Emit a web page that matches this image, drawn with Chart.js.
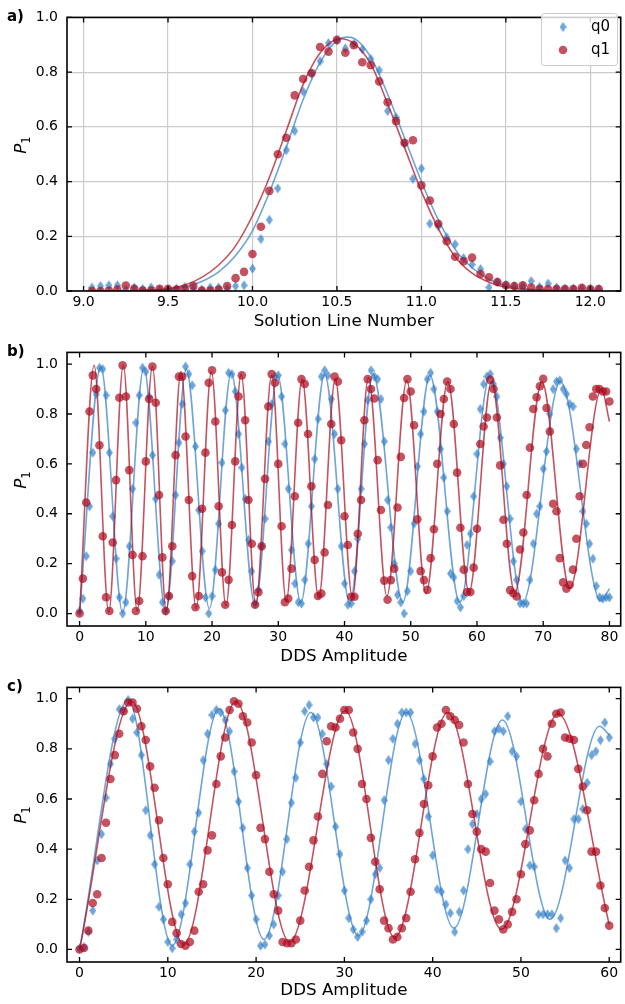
<!DOCTYPE html>
<html>
<head>
<meta charset="utf-8">
<script src="https://cdn.jsdelivr.net/npm/chart.js@4.4.0/dist/chart.umd.min.js"></script>
<style>
  body { margin: 0; background: #fff; width: 625px; height: 1004px; position: relative; overflow: hidden; font-family: 'DejaVu Sans', sans-serif; color: #000; }
  canvas { position: absolute; left: 0; }
  .tag { position: absolute; left: 7px; font-weight: bold; font-size: 15px; line-height: 18px; }
  .ylab { position: absolute; left: 23px; font-size: 16.7px; line-height: 20px; white-space: nowrap; transform: translate(-50%, -50%) rotate(-90deg); }
  .ylab i { font-style: italic; }
  .ylab sub { font-size: 11.7px; vertical-align: -4px; }
</style>
</head>
<body>
<canvas id="chartA" width="625" height="335" style="top:0px"></canvas>
<canvas id="chartB" width="625" height="335" style="top:335px"></canvas>
<canvas id="chartC" width="625" height="334" style="top:670px"></canvas>
<div class="tag" style="top:7px">a)</div>
<div class="tag" style="top:342px">b)</div>
<div class="tag" style="top:677px">c)</div>
<div class="ylab" style="top:145px"><i>P</i><sub>1</sub></div>
<div class="ylab" style="top:480px"><i>P</i><sub>1</sub></div>
<div class="ylab" style="top:815px"><i>P</i><sub>1</sub></div>

<script>
// series names
const seriesNames = ["q0", "q1"];

// panel a: solution line scan, x = 9.05 + i*0.05
const aStart = 9.05, aStep = 0.05;
const aQ0 = [
  0.013, 0.018, 0.021, 0.021, 0.005, 0.013, 0.008, 0.013, 0.005, 0.005,
  0.008, 0.015, 0.008, 0.005, 0.013, 0.013, 0.008, 0.018, 0.021, 0.082,
  0.19, 0.26, 0.375, 0.515, 0.585, 0.729, 0.793, 0.84, 0.906, 0.916,
  0.887, 0.904, 0.883, 0.848, 0.807, 0.658, 0.635, 0.538, 0.41, 0.448,
  0.246, 0.237, 0.196, 0.171, 0.12, 0.097, 0.08, 0.013, 0.033, 0.023,
  0.018, 0.018, 0.036, 0.015, 0.027, 0.013, 0.009, 0.009, 0.009, 0.009,
  0.007
];
const aQ1 = [
  0.0, 0.0, 0.002, 0.005, 0.02, 0.008, 0.002, 0.002, 0.008, 0.008,
  0.005, 0.008, 0.018, 0.002, 0.002, 0.005, 0.018, 0.047, 0.07, 0.135,
  0.235, 0.366, 0.5, 0.56, 0.715, 0.775, 0.797, 0.892, 0.875, 0.918,
  0.871, 0.898, 0.836, 0.825, 0.766, 0.69, 0.621, 0.542, 0.551, 0.386,
  0.331, 0.246, 0.182, 0.125, 0.109, 0.122, 0.062, 0.05, 0.033, 0.021,
  0.018, 0.021, 0.013, 0.007, 0.007, 0.007, 0.007, 0.007, 0.012, 0.007,
  0.007
];
// fitted curves [x, y]
const aFit0 = [[9.05,0],[9.3,0.001],[9.5,0.006],[9.6,0.015],[9.7,0.035],[9.8,0.07],[9.9,0.13],[10.0,0.22],
  [10.1,0.36],[10.2,0.525],[10.3,0.7],[10.4,0.835],[10.5,0.915],[10.56,0.928],[10.6,0.924],[10.7,0.855],
  [10.8,0.72],[10.9,0.56],[11.0,0.4],[11.1,0.26],[11.2,0.152],[11.3,0.085],[11.4,0.043],[11.5,0.02],
  [11.6,0.009],[11.7,0.004],[11.9,0.0],[12.05,0]];
const aFit1 = [[9.05,0],[9.3,0.001],[9.5,0.008],[9.6,0.022],[9.7,0.05],[9.8,0.095],[9.9,0.165],[10.0,0.275],
  [10.1,0.415],[10.2,0.585],[10.3,0.755],[10.4,0.87],[10.52,0.922],[10.6,0.905],[10.7,0.83],[10.8,0.685],
  [10.9,0.525],[11.0,0.365],[11.1,0.228],[11.2,0.125],[11.3,0.065],[11.4,0.032],[11.5,0.014],[11.6,0.006],
  [11.7,0.002],[11.9,0.0],[12.05,0]];
const aXTicks = [9.0, 9.5, 10.0, 10.5, 11.0, 11.5, 12.0];

// panel b: DDS amplitude 0..80, step 0.5
const bStart = 0, bStep = 0.5;
const bQ0 = [
  0.01, 0.06, 0.23, 0.43, 0.645, 0.88, 0.985, 0.98, 0.875, 0.645,
  0.39, 0.22, 0.065, 0.0, 0.045, 0.27, 0.5, 0.765, 0.875, 0.985,
  0.97, 0.87, 0.635, 0.46, 0.155, 0.045, 0.01, 0.07, 0.21, 0.475,
  0.685, 0.84, 0.99, 0.96, 0.915, 0.67, 0.415, 0.25, 0.065, 0.0,
  0.07, 0.175, 0.36, 0.605, 0.815, 0.965, 0.96, 0.89, 0.72, 0.585,
  0.46, 0.295, 0.17, 0.04, 0.095, 0.27, 0.38, 0.69, 0.84, 0.95,
  0.955, 0.87, 0.68, 0.5, 0.255, 0.12, 0.045, 0.04, 0.135, 0.28,
  0.43, 0.62, 0.78, 0.95, 0.975, 0.955, 0.86, 0.72, 0.5, 0.27,
  0.12, 0.035, 0.04, 0.17, 0.3, 0.5, 0.68, 0.855, 0.975, 0.95,
  0.94, 0.86, 0.69, 0.455, 0.345, 0.2, 0.075, 0.045, 0.0, 0.09,
  0.17, 0.36, 0.59, 0.72, 0.81, 0.94, 0.965, 0.9, 0.81, 0.66,
  0.545, 0.41, 0.16, 0.145, 0.05, 0.025, 0.07, 0.275, 0.32, 0.47,
  0.64, 0.82, 0.92, 0.95, 0.96, 0.92, 0.87, 0.705, 0.6, 0.51,
  0.38, 0.21, 0.135, 0.04, 0.04, 0.04, 0.135, 0.28, 0.4, 0.43,
  0.58, 0.65, 0.8, 0.9, 0.93, 0.935, 0.9, 0.88, 0.84, 0.83,
  0.66, 0.6, 0.41, 0.36, 0.28, 0.22, 0.11, 0.065, 0.06, 0.065,
  0.065
];
const bQ1 = [
  0.0, 0.14, 0.445, 0.81, 0.955, 0.9, 0.675, 0.31, 0.065, 0.01,
  0.285, 0.535, 0.865, 0.995, 0.87, 0.575, 0.235, 0.01, 0.05, 0.23,
  0.61, 0.86, 0.99, 0.845, 0.475, 0.225, 0.01, 0.07, 0.27, 0.635,
  0.95, 0.95, 0.71, 0.455, 0.15, 0.025, 0.07, 0.42, 0.645, 0.925,
  0.975, 0.77, 0.43, 0.165, 0.035, 0.135, 0.355, 0.61, 0.87, 0.955,
  0.775, 0.455, 0.28, 0.035, 0.085, 0.27, 0.54, 0.83, 0.96, 0.925,
  0.6, 0.35, 0.045, 0.06, 0.18, 0.47, 0.765, 0.94, 0.92, 0.72,
  0.51, 0.215, 0.07, 0.08, 0.245, 0.435, 0.76, 0.95, 0.93, 0.695,
  0.39, 0.275, 0.067, 0.067, 0.32, 0.455, 0.775, 0.94, 0.9, 0.862,
  0.615, 0.415, 0.132, 0.055, 0.134, 0.18, 0.425, 0.628, 0.864, 0.94,
  0.89, 0.755, 0.378, 0.17, 0.134, 0.095, 0.222, 0.338, 0.6, 0.8,
  0.86, 0.93, 0.9, 0.76, 0.565, 0.344, 0.176, 0.086, 0.086, 0.184,
  0.34, 0.68, 0.75, 0.786, 0.937, 0.9, 0.786, 0.594, 0.376, 0.28,
  0.094, 0.081, 0.068, 0.257, 0.325, 0.475, 0.665, 0.82, 0.867, 0.911,
  0.941, 0.824, 0.73, 0.44, 0.41, 0.222, 0.125, 0.1, 0.115, 0.176,
  0.3, 0.47, 0.6, 0.676, 0.747, 0.87, 0.9, 0.9, 0.89, 0.89,
  0.85
];
// fit curves: turning points
const bFit0 = [[0,0],[3.2,0.99],[6.5,0.005],[9.7,0.985],[13.0,0.01],[16.1,0.98],[19.6,0.02],[22.9,0.965],
  [26.5,0.035],[29.9,0.955],[33.4,0.045],[37.0,0.96],[40.8,0.04],[44.3,0.96],[48.8,0.045],[52.9,0.955],
  [57.4,0.045],[62.0,0.955],[66.9,0.045],[72.6,0.93],[78.7,0.05],[80,0.1]];
const bFit1 = [[0,0],[2.2,0.995],[4.4,0.005],[6.6,0.995],[8.7,0.01],[11.0,0.99],[13.1,0.01],[15.3,0.97],
  [17.6,0.02],[19.9,0.97],[22.1,0.03],[24.4,0.96],[26.6,0.035],[29.0,0.955],[31.2,0.05],[33.6,0.94],
  [36.1,0.06],[38.6,0.94],[41.2,0.065],[43.6,0.945],[46.4,0.07],[49.4,0.935],[52.3,0.08],[55.6,0.93],
  [58.8,0.085],[62.2,0.93],[65.7,0.085],[69.8,0.93],[74.0,0.1],[78.8,0.9],[80,0.77]];
const bXTicks = [0, 10, 20, 30, 40, 50, 60, 70, 80];

// panel c: DDS amplitude 0..60, step 0.5
const cStart = 0, cStep = 0.5;
const cQ0 = [
  0.005, 0.01, 0.07, 0.155, 0.355, 0.46, 0.605, 0.74, 0.84, 0.958,
  0.955, 0.995, 0.92, 0.865, 0.775, 0.555, 0.455, 0.34, 0.17, 0.12,
  0.03, 0.005, 0.04, 0.14, 0.185, 0.34, 0.47, 0.545, 0.755, 0.86,
  0.935, 0.955, 0.945, 0.915, 0.87, 0.71, 0.59, 0.485, 0.325, 0.215,
  0.12, 0.015, 0.02, 0.055, 0.1, 0.215, 0.31, 0.44, 0.585, 0.685,
  0.825, 0.95, 0.975, 0.925, 0.925, 0.86, 0.74, 0.65, 0.49, 0.38,
  0.235, 0.125, 0.08, 0.05, 0.07, 0.115, 0.2, 0.3, 0.325, 0.595,
  0.755, 0.84, 0.9, 0.945, 0.945, 0.945, 0.82, 0.755, 0.68, 0.53,
  0.375, 0.24, 0.23, 0.18, 0.145, 0.07, 0.15, 0.235, 0.4, 0.5,
  0.54, 0.6, 0.62, 0.75, 0.87, 0.88, 0.87, 0.93, 0.79, 0.77,
  0.59, 0.48, 0.335, 0.33, 0.14, 0.14, 0.14, 0.14, 0.085, 0.125,
  0.355, 0.325, 0.52, 0.52, 0.56, 0.665, 0.775, 0.79, 0.835, 0.905,
  0.845
];
const cQ1 = [
  0.0, 0.006, 0.075, 0.185, 0.22, 0.365, 0.505, 0.68, 0.775, 0.86,
  0.95, 0.985, 0.985, 0.96, 0.89, 0.835, 0.73, 0.645, 0.515, 0.365,
  0.26, 0.11, 0.065, 0.022, 0.015, 0.03, 0.075, 0.23, 0.26, 0.395,
  0.455, 0.66, 0.77, 0.845, 0.955, 0.99, 0.98, 0.93, 0.905, 0.825,
  0.695, 0.485, 0.44, 0.31, 0.22, 0.155, 0.03, 0.025, 0.025, 0.04,
  0.115, 0.235, 0.33, 0.435, 0.53, 0.7, 0.83, 0.89, 0.885, 0.92,
  0.955, 0.955, 0.865, 0.8, 0.66, 0.6, 0.445, 0.35, 0.24, 0.115,
  0.085, 0.04, 0.05, 0.085, 0.125, 0.23, 0.36, 0.465, 0.58, 0.655,
  0.77, 0.885, 0.9, 0.955, 0.93, 0.915, 0.895, 0.825, 0.66, 0.54,
  0.47, 0.4, 0.39, 0.265, 0.155, 0.12, 0.08, 0.1, 0.15, 0.2,
  0.3, 0.42, 0.475, 0.595, 0.7, 0.8, 0.77, 0.9, 0.94, 0.945,
  0.845, 0.84, 0.835, 0.72, 0.65, 0.555, 0.39, 0.39, 0.255, 0.165,
  0.095
];
const cFit0 = [[0,0],[5.5,0.995],[10.5,0.015],[15.8,0.96],[20.9,0.04],[26.2,0.945],[31.6,0.055],
  [37.0,0.945],[42.4,0.085],[47.9,0.915],[53.3,0.12],[58.9,0.89],[60,0.855]];
const cFit1 = [[0,0],[5.9,0.99],[11.8,0.02],[17.7,0.99],[23.8,0.03],[30.1,0.952],[35.7,0.047],
  [41.7,0.945],[47.8,0.08],[54.2,0.94],[60,0.1]];
const cXTicks = [0, 10, 20, 30, 40, 50, 60];

const yTicks = [0.0, 0.2, 0.4, 0.6, 0.8, 1.0];

// ---------------------------------------------------------------
const blueFill = "rgba(48,126,198,0.7)";
const redFill = "rgba(171,10,30,0.7)";

Chart.defaults.font.family = "'DejaVu Sans', sans-serif";
Chart.defaults.font.size = 14;
Chart.defaults.color = "#000";

function makeDiamond() {
    let c = document.createElement("canvas");
    c.width = 7;
    c.height = 11;
    let g = c.getContext("2d");
    g.fillStyle = blueFill;
    g.beginPath();
    g.moveTo(3.5, 0.5);
    g.lineTo(7, 5.5);
    g.lineTo(3.5, 10.5);
    g.lineTo(0, 5.5);
    g.closePath();
    g.fill();
    return c;
}
const diamond = makeDiamond();

function toPoints(start, step, vals) {
    return vals.map(function(v, i) { return {x: start + i * step, y: v}; });
}
function toXY(pairs) {
    return pairs.map(function(p) { return {x: p[0], y: p[1]}; });
}

// inward ticks on all four sides plus the black frame
const framePlugin = {
    id: "frame",
    afterDatasetsDraw(chart) {
        let ctx = chart.ctx;
        let a = chart.chartArea;
        let xs = chart.scales.x, ys = chart.scales.y;
        ctx.save();
        ctx.strokeStyle = "#000";
        ctx.lineWidth = 1.3;
        ctx.beginPath();
        xs.ticks.forEach(function(t) {
            let px = xs.getPixelForValue(t.value);
            ctx.moveTo(px, a.bottom); ctx.lineTo(px, a.bottom - 5);
            ctx.moveTo(px, a.top); ctx.lineTo(px, a.top + 5);
        });
        ys.ticks.forEach(function(t) {
            let py = ys.getPixelForValue(t.value);
            ctx.moveTo(a.left, py); ctx.lineTo(a.left + 5, py);
            ctx.moveTo(a.right, py); ctx.lineTo(a.right - 5, py);
        });
        ctx.stroke();
        ctx.lineWidth = 1.6;
        ctx.strokeRect(a.left, a.top, a.right - a.left, a.bottom - a.top);
        ctx.restore();
    }
};

const legendPlugin = {
    id: "legendA",
    afterDraw(chart) {
        let ctx = chart.ctx;
        ctx.save();
        ctx.beginPath();
        if (ctx.roundRect) ctx.roundRect(541.5, 13.5, 76, 52, 3);
        else ctx.rect(541.5, 13.5, 76, 52);
        ctx.fillStyle = "rgba(255,255,255,0.8)";
        ctx.fill();
        ctx.strokeStyle = "#cccccc";
        ctx.lineWidth = 1;
        ctx.stroke();
        ctx.drawImage(diamond, 563 - diamond.width / 2, 27 - diamond.height / 2);
        ctx.beginPath();
        ctx.arc(563, 50, 4.3, 0, Math.PI * 2);
        ctx.fillStyle = redFill;
        ctx.fill();
        ctx.fillStyle = "#000";
        ctx.font = "15px 'DejaVu Sans'";
        ctx.textBaseline = "middle";
        ctx.fillText(seriesNames[0], 591, 27);
        ctx.fillText(seriesNames[1], 591, 50);
        ctx.restore();
    }
};

function makePanel(id, cfg) {
    let datasets = [
        {
            label: seriesNames[1] + " fit", data: toXY(cfg.fit1), showLine: true,
            borderColor: redFill, borderWidth: 1.6, pointRadius: 0,
            cubicInterpolationMode: "monotone", order: 0, clip: 0
        },
        {
            label: seriesNames[1], data: cfg.q1, pointStyle: "circle", pointRadius: 4.3,
            backgroundColor: redFill, borderWidth: 0, order: 1, clip: 0
        },
        {
            label: seriesNames[0] + " fit", data: toXY(cfg.fit0), showLine: true,
            borderColor: blueFill, borderWidth: 1.6, pointRadius: 0,
            cubicInterpolationMode: "monotone", order: 2, clip: 0
        },
        {
            label: seriesNames[0], data: cfg.q0, pointStyle: diamond, pointRadius: 4,
            backgroundColor: blueFill, borderWidth: 0, order: 3, clip: 0
        }
    ];

    return new Chart(document.getElementById(id), {
        type: "scatter",
        data: {datasets: datasets},
        options: {
            responsive: false,
            animation: false,
            devicePixelRatio: 1,
            events: [],
            layout: {padding: {top: 6, right: 1.5, left: 0, bottom: 0}},
            plugins: {legend: {display: false}, tooltip: {enabled: false}},
            scales: {
                x: {
                    type: "linear", min: cfg.xMin, max: cfg.xMax,
                    afterBuildTicks: function(s) { s.ticks = cfg.xTicks.map(function(v) { return {value: v}; }); },
                    afterFit: function(s) { s.height = cfg.xHeight; },
                    ticks: {padding: 3, maxRotation: 0, autoSkip: false, callback: cfg.xFmt},
                    grid: {display: cfg.grid, color: "#cbcbcb", lineWidth: 1.2, drawTicks: false},
                    border: {display: false},
                    title: {display: true, text: cfg.xTitle, font: {size: 16.7}, padding: {top: 0, bottom: 3}}
                },
                y: {
                    type: "linear", min: cfg.yMin, max: cfg.yMax,
                    afterBuildTicks: function(s) { s.ticks = yTicks.map(function(v) { return {value: v}; }); },
                    afterFit: function(s) { s.width = 67; },
                    ticks: {padding: 9, callback: function(v) { return v.toFixed(1); }},
                    grid: {display: cfg.grid, color: "#cbcbcb", lineWidth: 1.2, drawTicks: false},
                    border: {display: false}
                }
            }
        },
        plugins: cfg.legend ? [framePlugin, legendPlugin] : [framePlugin]
    });
}

makePanel("chartA", {
    q0: toPoints(aStart, aStep, aQ0), q1: toPoints(aStart, aStep, aQ1),
    fit0: aFit0, fit1: aFit1,
    xMin: 8.902, xMax: 12.18, yMin: 0, yMax: 1,
    xTicks: aXTicks, xFmt: function(v) { return v.toFixed(1); },
    xHeight: 44, grid: true, legend: true, xTitle: "Solution Line Number"
});

makePanel("chartB", {
    q0: toPoints(bStart, bStep, bQ0), q1: toPoints(bStart, bStep, bQ1),
    fit0: bFit0, fit1: bFit1,
    xMin: -1.9, xMax: 81.7, yMin: -0.05, yMax: 1.047,
    xTicks: bXTicks, xFmt: function(v) { return String(v); },
    xHeight: 44, grid: false, legend: false, xTitle: "DDS Amplitude"
});

makePanel("chartC", {
    q0: toPoints(cStart, cStep, cQ0), q1: toPoints(cStart, cStep, cQ1),
    fit0: cFit0, fit1: cFit1,
    xMin: -1.42, xMax: 61.3, yMin: -0.05, yMax: 1.045,
    xTicks: cXTicks, xFmt: function(v) { return String(v); },
    xHeight: 42, grid: false, legend: false, xTitle: "DDS Amplitude"
});
</script>
</body>
</html>
